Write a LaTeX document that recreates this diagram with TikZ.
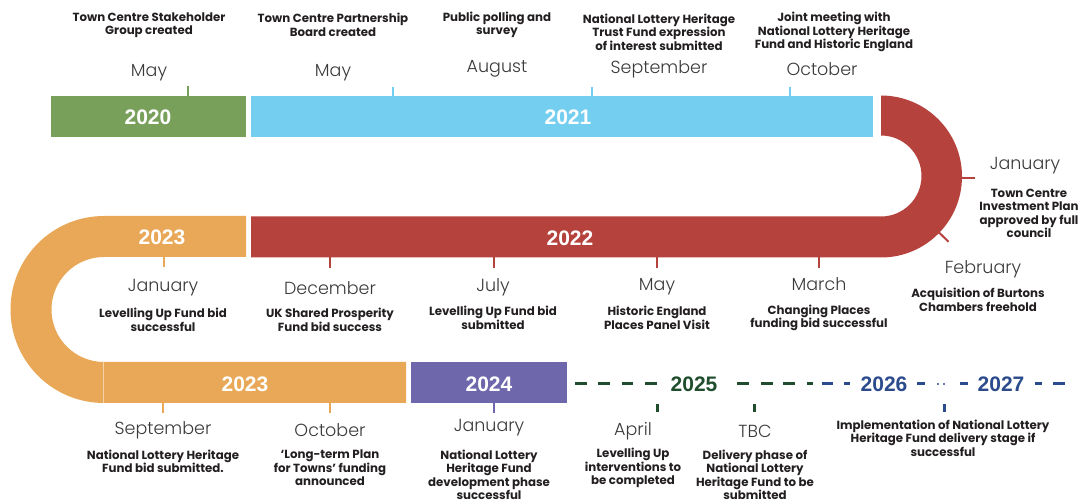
\documentclass[tikz,border=0pt]{standalone}
\usepackage{fontspec}
\setmainfont{Lato}
\newfontfamily\descfont{Poppins}
\IfFontExistsTF{Poppins Light}{\newfontfamily\monthfont{Poppins Light}}{\newfontfamily\monthfont{Poppins}}
\newfontfamily\yearfont{Liberation Sans}
\definecolor{cgreen}{HTML}{78A05B}
\definecolor{cblue}{HTML}{74CEF0}
\definecolor{cred}{HTML}{B5423C}
\definecolor{corange}{HTML}{E9A857}
\definecolor{cpurple}{HTML}{6E67AC}
\definecolor{dgreen}{HTML}{1F4D2E}
\definecolor{navy}{HTML}{2B4B8C}
\definecolor{txt}{HTML}{231F20}
\definecolor{mtxt}{HTML}{3A3A3A}
\tikzset{
  desc/.style={font=\descfont\bfseries\fontsize{11.8}{13.5}\selectfont, text=txt, align=center, inner sep=0pt},
  month/.style={font=\monthfont\fontsize{17.5}{20}\selectfont, text=mtxt, inner sep=0pt},
  yr/.style={font=\yearfont\bfseries\fontsize{21}{24}\selectfont, text=white, inner sep=0pt},
  tk/.style={line width=2pt},
  dtk/.style={line width=3pt},
  dsh/.style={line width=3pt},
}
\begin{document}
\begin{tikzpicture}[x=1pt,y=1pt]
\useasboundingbox (0,0) rectangle (1082,-502);
% bars
\fill[cgreen] (51,-96) rectangle (246,-137);
\fill[cblue] (251,-96) rectangle (873,-137);
\fill[cred] (251,-216.5) -- (881,-216.5) arc[start angle=-90,end angle=90,radius=40.5]
  -- (881,-95.5) arc[start angle=90,end angle=-90,radius=81] -- (251,-257.5) -- cycle;
\fill[corange] (246,-216) -- (104,-216) arc[start angle=90,end angle=270,radius=93.5]
  -- (406,-403) -- (406,-362) -- (104,-362) arc[start angle=270,end angle=90,radius=52.5]
  -- (246,-257) -- cycle;
\draw[white,opacity=0.5,line width=0.6pt] (103,-362) -- (103,-403);
\fill[cpurple] (411,-362) rectangle (567,-403);
% ticks top
\draw[tk,cgreen] (188,-86) -- (188,-96);
\foreach \x in {393,592,790} \draw[tk,cblue] (\x,-87) -- (\x,-96);
% ticks arc
\draw[tk,cred] (961,-178) -- (975,-178);
\draw[tk,cred] (881,-176.5) ++(-44:80) -- ++(-44:14);
% ticks middle
\draw[tk,corange] (164,-257) -- (164,-267);
\foreach \x in {330,494,657,819} \draw[tk,cred] (\x,-257) -- (\x,-268);
% ticks bottom
\foreach \x in {163,330} \draw[tk,corange] (\x,-403) -- (\x,-413);
\draw[tk,cpurple] (494,-403) -- (494,-413);
\foreach \x in {657,754} \draw[dtk,dgreen] (\x,-404) -- (\x,-412);
\draw[dtk,navy] (944,-404) -- (944,-412);
% dashes
\foreach \a/\b in {575/587,598/610,622/633,645/657,737/749,761/773,783/795,807/813}
  \draw[dsh,dgreen] (\a,-384) -- (\b,-384);
\foreach \a/\b in {822/833,844/850,917/925,960/968,1035/1042,1053/1065}
  \draw[dsh,navy] (\a,-384) -- (\b,-384);
\fill[navy] (938,-384) circle (1.2) (944,-384) circle (1.2);
% year labels
\node[yr] (y2020) at (148,-117) {2020};
\node[yr] (y2021) at (568,-117) {2021};
\node[yr] (y2022) at (570,-238) {2022};
\node[yr] (y2023a) at (162,-237) {2023};
\node[yr] (y2023b) at (245,-384) {2023};
\node[yr] (y2024) at (489,-384) {2024};
\node[yr,text=dgreen] (y2025) at (694,-384) {2025};
\node[yr,text=navy] (y2026) at (884,-384) {2026};
\node[yr,text=navy] (y2027) at (1001,-384) {2027};
% top labels
\node[desc] (d1) at (149,-25) {Town Centre Stakeholder\\Group created};
\node[month] (m1) at (149,-73) {May};
\node[desc] (d2) at (333,-25) {Town Centre Partnership\\Board created};
\node[month] (m2) at (333,-73) {May};
\node[desc] (d3) at (497,-25) {Public polling and\\survey};
\node[month] (m3) at (497,-69) {August};
\node[desc] (d4) at (659,-32) {National Lottery Heritage\\Trust Fund expression\\of interest submitted};
\node[month] (m4) at (659,-69) {September};
\node[desc] (d5) at (834,-32) {Joint meeting with\\National Lottery Heritage\\Fund and Historic England};
\node[month] (m5) at (822,-69) {October};
% right labels
\node[month] (m6) at (1025,-166) {January};
\node[desc] (d6) at (1029,-213.5) {Town Centre\\Investment Plan\\approved by full\\council};
\node[month] (m7) at (983,-269) {February};
\node[desc] (d7) at (978,-300) {Acquisition of Burtons\\Chambers freehold};
% middle labels
\node[month] (m8) at (163,-288) {January};
\node[desc] (d8) at (163,-320) {Levelling Up Fund bid\\successful};
\node[month] (m9) at (330,-288) {December};
\node[desc] (d9) at (330,-320) {UK Shared Prosperity\\Fund bid success};
\node[month] (m10) at (493,-287) {July};
\node[desc] (d10) at (493,-318) {Levelling Up Fund bid\\submitted};
\node[month] (m11) at (657,-287) {May};
\node[desc] (d11) at (657,-318) {Historic England\\Places Panel Visit};
\node[month] (m12) at (819,-284) {March};
\node[desc] (d12) at (819,-318) {Changing Places\\funding bid successful};
% bottom labels
\node[month] (m13) at (163,-430) {September};
\node[desc] (d13) at (163,-461.5) {National Lottery Heritage\\Fund bid submitted.};
\node[month] (m14) at (330,-430) {October};
\node[desc] (d14) at (330,-468) {‘Long-term Plan\\for Towns’ funding\\announced};
\node[month] (m15) at (489,-428) {January};
\node[desc] (d15) at (489,-475) {National Lottery\\Heritage Fund\\development phase\\successful};
\node[month] (m16) at (633,-431) {April};
\node[desc] (d16) at (633,-468) {Levelling Up\\interventions to\\be completed};
\node[month] (m17) at (755,-431) {TBC};
\node[desc] (d17) at (755,-475) {Delivery phase of\\National Lottery\\Heritage Fund to be\\submitted};
\node[desc] (d18) at (943,-438) {Implementation of National Lottery\\Heritage Fund delivery stage if\\successful};
\end{tikzpicture}
\end{document}
